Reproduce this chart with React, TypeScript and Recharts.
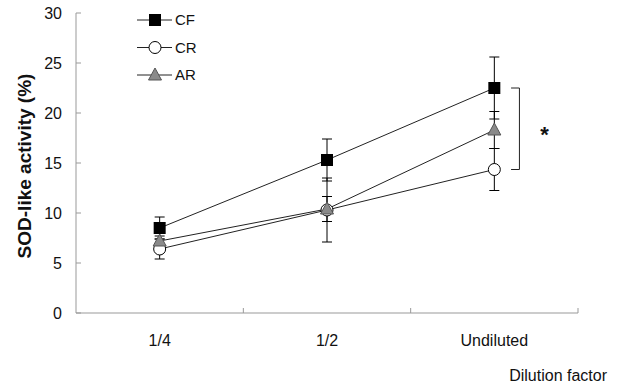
import React from 'react';
import { LineChart, Line, XAxis, YAxis, ErrorBar, Legend, ReferenceLine, ReferenceDot } from 'recharts';

// dilution levels, left to right
const categories = ['1/4', '1/2', 'Undiluted'];

// series names in legend order
const seriesNames = ['CF', 'CR', 'AR'];

// SOD-like activity (%) means and SD
const cfValues = [8.5, 15.3, 22.5];
const cfErrors = [1.1, 2.1, 3.1];
const crValues = [6.4, 10.3, 14.35];
const crErrors = [1.0, 3.2, 2.1];
const arValues = [7.2, 10.4, 18.3];
const arErrors = [0.5, 1.25, 1.85];

const yTicks = [0, 5, 10, 15, 20, 25, 30];

const FONT = '"Liberation Sans", Arial, sans-serif';
const AXIS = '#999';

// each category sits in the middle of its band on a 0..n axis
const data = categories.map((name, i) => ({
  name,
  x: i + 0.5,
  cf: cfValues[i],
  cfErr: cfErrors[i],
  cr: crValues[i],
  crErr: crErrors[i],
  ar: arValues[i],
  arErr: arErrors[i],
}));

const xTicks: number[] = [];
for (let i = 0; i <= categories.length * 2; i++) xTicks.push(i / 2);

const Square = ({ cx, cy }: any) => <rect x={cx - 6} y={cy - 6} width={12} height={12} fill="#000" />;
const Circle = ({ cx, cy }: any) => <circle cx={cx} cy={cy} r={6} fill="#fff" stroke="#000" strokeWidth={1} />;
const Triangle = ({ cx, cy }: any) => (
  <polygon points={`${cx},${cy - 7} ${cx - 6.5},${cy + 5} ${cx + 6.5},${cy + 5}`} fill="#8a8a8a" stroke="#555" strokeWidth={1} />
);

const markers: Record<string, any> = { CF: Square, CR: Circle, AR: Triangle };

const XTick = ({ x, y, payload }: any) => {
  const v = payload.value;
  if (Number.isInteger(v)) {
    if (v === 0) return <g />;
    return <line x1={x} y1={y} x2={x} y2={y - 5} stroke={AXIS} />;
  }
  return (
    <text x={x} y={y + 33} textAnchor="middle" fontSize={16} fontFamily={FONT} fill="#111">
      {categories[Math.floor(v)]}
    </text>
  );
};

const YTick = ({ x, y, payload }: any) => (
  <g>
    <line x1={x} y1={y} x2={x + 5} y2={y} stroke={AXIS} />
    <text x={x - 14} y={y} dy="0.36em" textAnchor="end" fontSize={16} fontFamily={FONT} fill="#111">
      {payload.value}
    </text>
  </g>
);

const LegendBox = () => (
  <svg width={90} height={84} style={{ display: 'block' }}>
    {seriesNames.map((name, i) => {
      const cy = 12 + i * 27.5;
      const M = markers[name];
      return (
        <g key={name}>
          <line x1={7} y1={cy} x2={42} y2={cy} stroke="#222" />
          <M cx={25} cy={cy} />
          <text x={45} y={cy} dy="0.36em" fontSize={15} fontFamily={FONT} fill="#111">
            {name}
          </text>
        </g>
      );
    })}
  </svg>
);

const App: React.FC = () => {
  return (
    <div style={{ position: 'absolute', left: 0, top: 0, width: 618, height: 388, background: '#fff' }}>
      <LineChart width={618} height={388} data={data} margin={{ top: 13, right: 40, left: 0, bottom: 0 }}>
        <XAxis
          dataKey="x"
          type="number"
          domain={[0, categories.length]}
          ticks={xTicks}
          interval={0}
          tick={<XTick />}
          tickLine={false}
          tickSize={0}
          tickMargin={0}
          height={75}
          stroke={AXIS}
          label={{
            content: ({ viewBox }: any) => (
              <text x={viewBox.x + viewBox.width + 29} y={viewBox.y + 68} textAnchor="end" fontSize={16} fontFamily={FONT} fill="#111">
                Dilution factor
              </text>
            ),
          }}
        />
        <YAxis
          type="number"
          domain={[0, 30]}
          ticks={yTicks}
          interval={0}
          tick={<YTick />}
          tickLine={false}
          tickSize={0}
          tickMargin={0}
          width={76}
          stroke={AXIS}
          label={{
            content: ({ viewBox }: any) => {
              const cx = 24;
              const cy = viewBox.y + viewBox.height / 2 + 3;
              return (
                <text x={cx} y={cy} transform={`rotate(-90 ${cx} ${cy})`} textAnchor="middle" dy="0.36em" fontSize={19} fontWeight="bold" fontFamily={FONT} fill="#111">
                  SOD-like activity (%)
                </text>
              );
            },
          }}
        />
        <Legend
          layout="vertical"
          align="center"
          verticalAlign="middle"
          content={<LegendBox />}
          wrapperStyle={{ left: 130, top: 8, width: 90, height: 84 }}
        />
        <Line dataKey="cf" name="CF" stroke="#222" strokeWidth={1} dot={(p: any) => <Square key={`cf${p.index}`} {...p} />} activeDot={false} isAnimationActive={false}>
          <ErrorBar dataKey="cfErr" width={5} stroke="#000" strokeWidth={1} />
        </Line>
        <Line dataKey="cr" name="CR" stroke="#222" strokeWidth={1} dot={(p: any) => <Circle key={`cr${p.index}`} {...p} />} activeDot={false} isAnimationActive={false}>
          <ErrorBar dataKey="crErr" width={5} stroke="#000" strokeWidth={1} />
        </Line>
        <Line dataKey="ar" name="AR" stroke="#222" strokeWidth={1} dot={(p: any) => <Triangle key={`ar${p.index}`} {...p} />} activeDot={false} isAnimationActive={false}>
          <ErrorBar dataKey="arErr" width={5} stroke="#000" strokeWidth={1} />
        </Line>
        {/* significance bracket between CF and CR at undiluted */}
        <ReferenceLine segment={[{ x: 2.6, y: cfValues[2] }, { x: 2.65, y: cfValues[2] }]} stroke="#222" />
        <ReferenceLine segment={[{ x: 2.65, y: cfValues[2] }, { x: 2.65, y: crValues[2] }]} stroke="#222" />
        <ReferenceLine segment={[{ x: 2.6, y: crValues[2] }, { x: 2.65, y: crValues[2] }]} stroke="#222" />
        <ReferenceDot
          x={2.8}
          y={(cfValues[2] + crValues[2]) / 2}
          r={0}
          label={{ value: '*', position: 'center', fontSize: 22, fontWeight: 'bold', fontFamily: FONT, fill: '#111', dy: 5 }}
        />
      </LineChart>
    </div>
  );
};

export default App;
